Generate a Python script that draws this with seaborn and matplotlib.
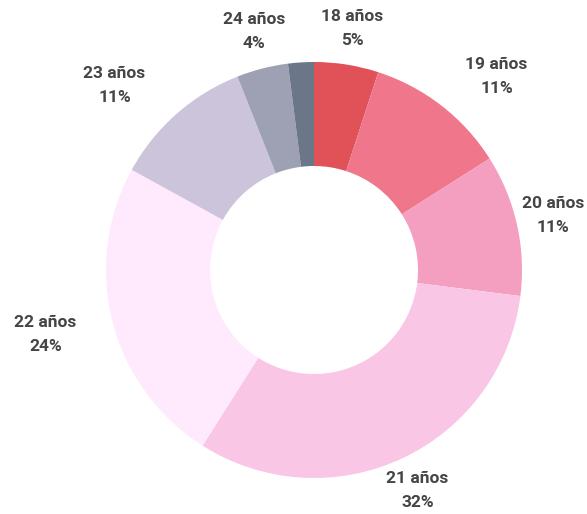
import numpy as np
import matplotlib.pyplot as plt
import seaborn as sns

# Data
edades = ['18 años', '19 años', '20 años', '21 años', '22 años', '23 años', '24 años', '25 años']
porcentajes = [5, 11, 11, 32, 24, 11, 4, 2]
mostrar = [True, True, True, True, True, True, True, False]
colores = ['#E05158', '#F0768C', '#F59FC0', '#F9C6E5', '#FEE9FD', '#CBC4DA', '#9DA1B3', '#6B7788']

# label nudges (pixels) from the outer edge of each slice
nudges = [(6, 36), (55, 29), (36, 9), (15, -32), (-67, -13), (-62, 28), (-8, 37), (0, 0)]


def main():
    sns.set_style('white')
    plt.rcParams['font.family'] = ['Roboto', 'DejaVu Sans']

    fig = plt.figure(figsize=(5.87, 5.14), dpi=100)
    ax = fig.add_axes([0, 0, 1, 1])

    palette = sns.color_palette(colores)
    wedges, _ = ax.pie(porcentajes, colors=palette, startangle=90, counterclock=False,
                       radius=1, wedgeprops=dict(width=0.5, edgecolor='none', linewidth=0))

    # pixel scale: radius of 208 px, centre at (314, 270) from top-left
    R = 208.0
    ax.set_xlim(-314 / R, (587 - 314) / R)
    ax.set_ylim(-(514 - 270) / R, 270 / R)
    ax.set_aspect('equal')
    ax.axis('off')

    for w, lab, pct, show, (dx, dy) in zip(wedges, edades, porcentajes, mostrar, nudges):
        if not show:
            continue
        ang = np.deg2rad((w.theta1 + w.theta2) / 2)
        x, y = np.cos(ang), np.sin(ang)
        ax.annotate(f'{lab}\n{pct}%', xy=(x, y), xytext=(dx, dy), textcoords='offset pixels',
                    ha='center', va='center', fontsize=12.5, fontweight='bold',
                    color='#454545', linespacing=1.75)

    fig.savefig('out.png', dpi=100)


if __name__ == '__main__':
    main()
